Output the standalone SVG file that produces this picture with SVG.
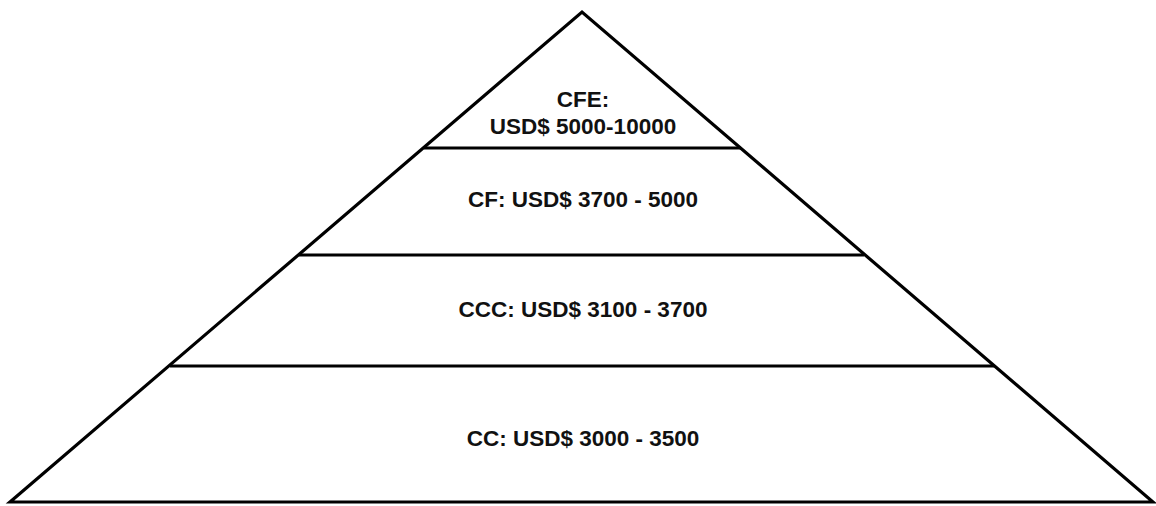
<svg xmlns="http://www.w3.org/2000/svg" width="1156" height="506" viewBox="0 0 1156 506">
  <style>
    .edge { fill: none; stroke: #000; stroke-width: 3.2; stroke-linejoin: miter; }
    .tier { stroke: #000; stroke-width: 3.2; }
    .label { font-family: "Liberation Sans", Arial, sans-serif; font-weight: bold; font-size: 22.5px; fill: #111; text-anchor: middle; }
  </style>
  <rect width="1156" height="506" fill="#fff"/>
  <!-- outer triangle -->
  <g id="pyramid">
    <path class="edge" d="M 10 502 L 582 12 L 1153 502 Z"/>
  </g>
  <!-- tier dividers -->
  <g id="connectors">
    <line class="tier" x1="424" y1="148" x2="741" y2="148"/>
    <line class="tier" x1="299" y1="255" x2="864" y2="255"/>
    <line class="tier" x1="170" y1="366" x2="994" y2="366"/>
  </g>
  <g id="tier-cfe">
    <text class="label" x="583" y="107">CFE:</text>
    <text class="label" x="583" y="134">USD$ 5000-10000</text>
  </g>
  <g id="tier-cf">
    <text class="label" x="583" y="207">CF: USD$ 3700 - 5000</text>
  </g>
  <g id="tier-ccc">
    <text class="label" x="583" y="317">CCC: USD$ 3100 - 3700</text>
  </g>
  <g id="tier-cc">
    <text class="label" x="583" y="446">CC: USD$ 3000 - 3500</text>
  </g>
</svg>
